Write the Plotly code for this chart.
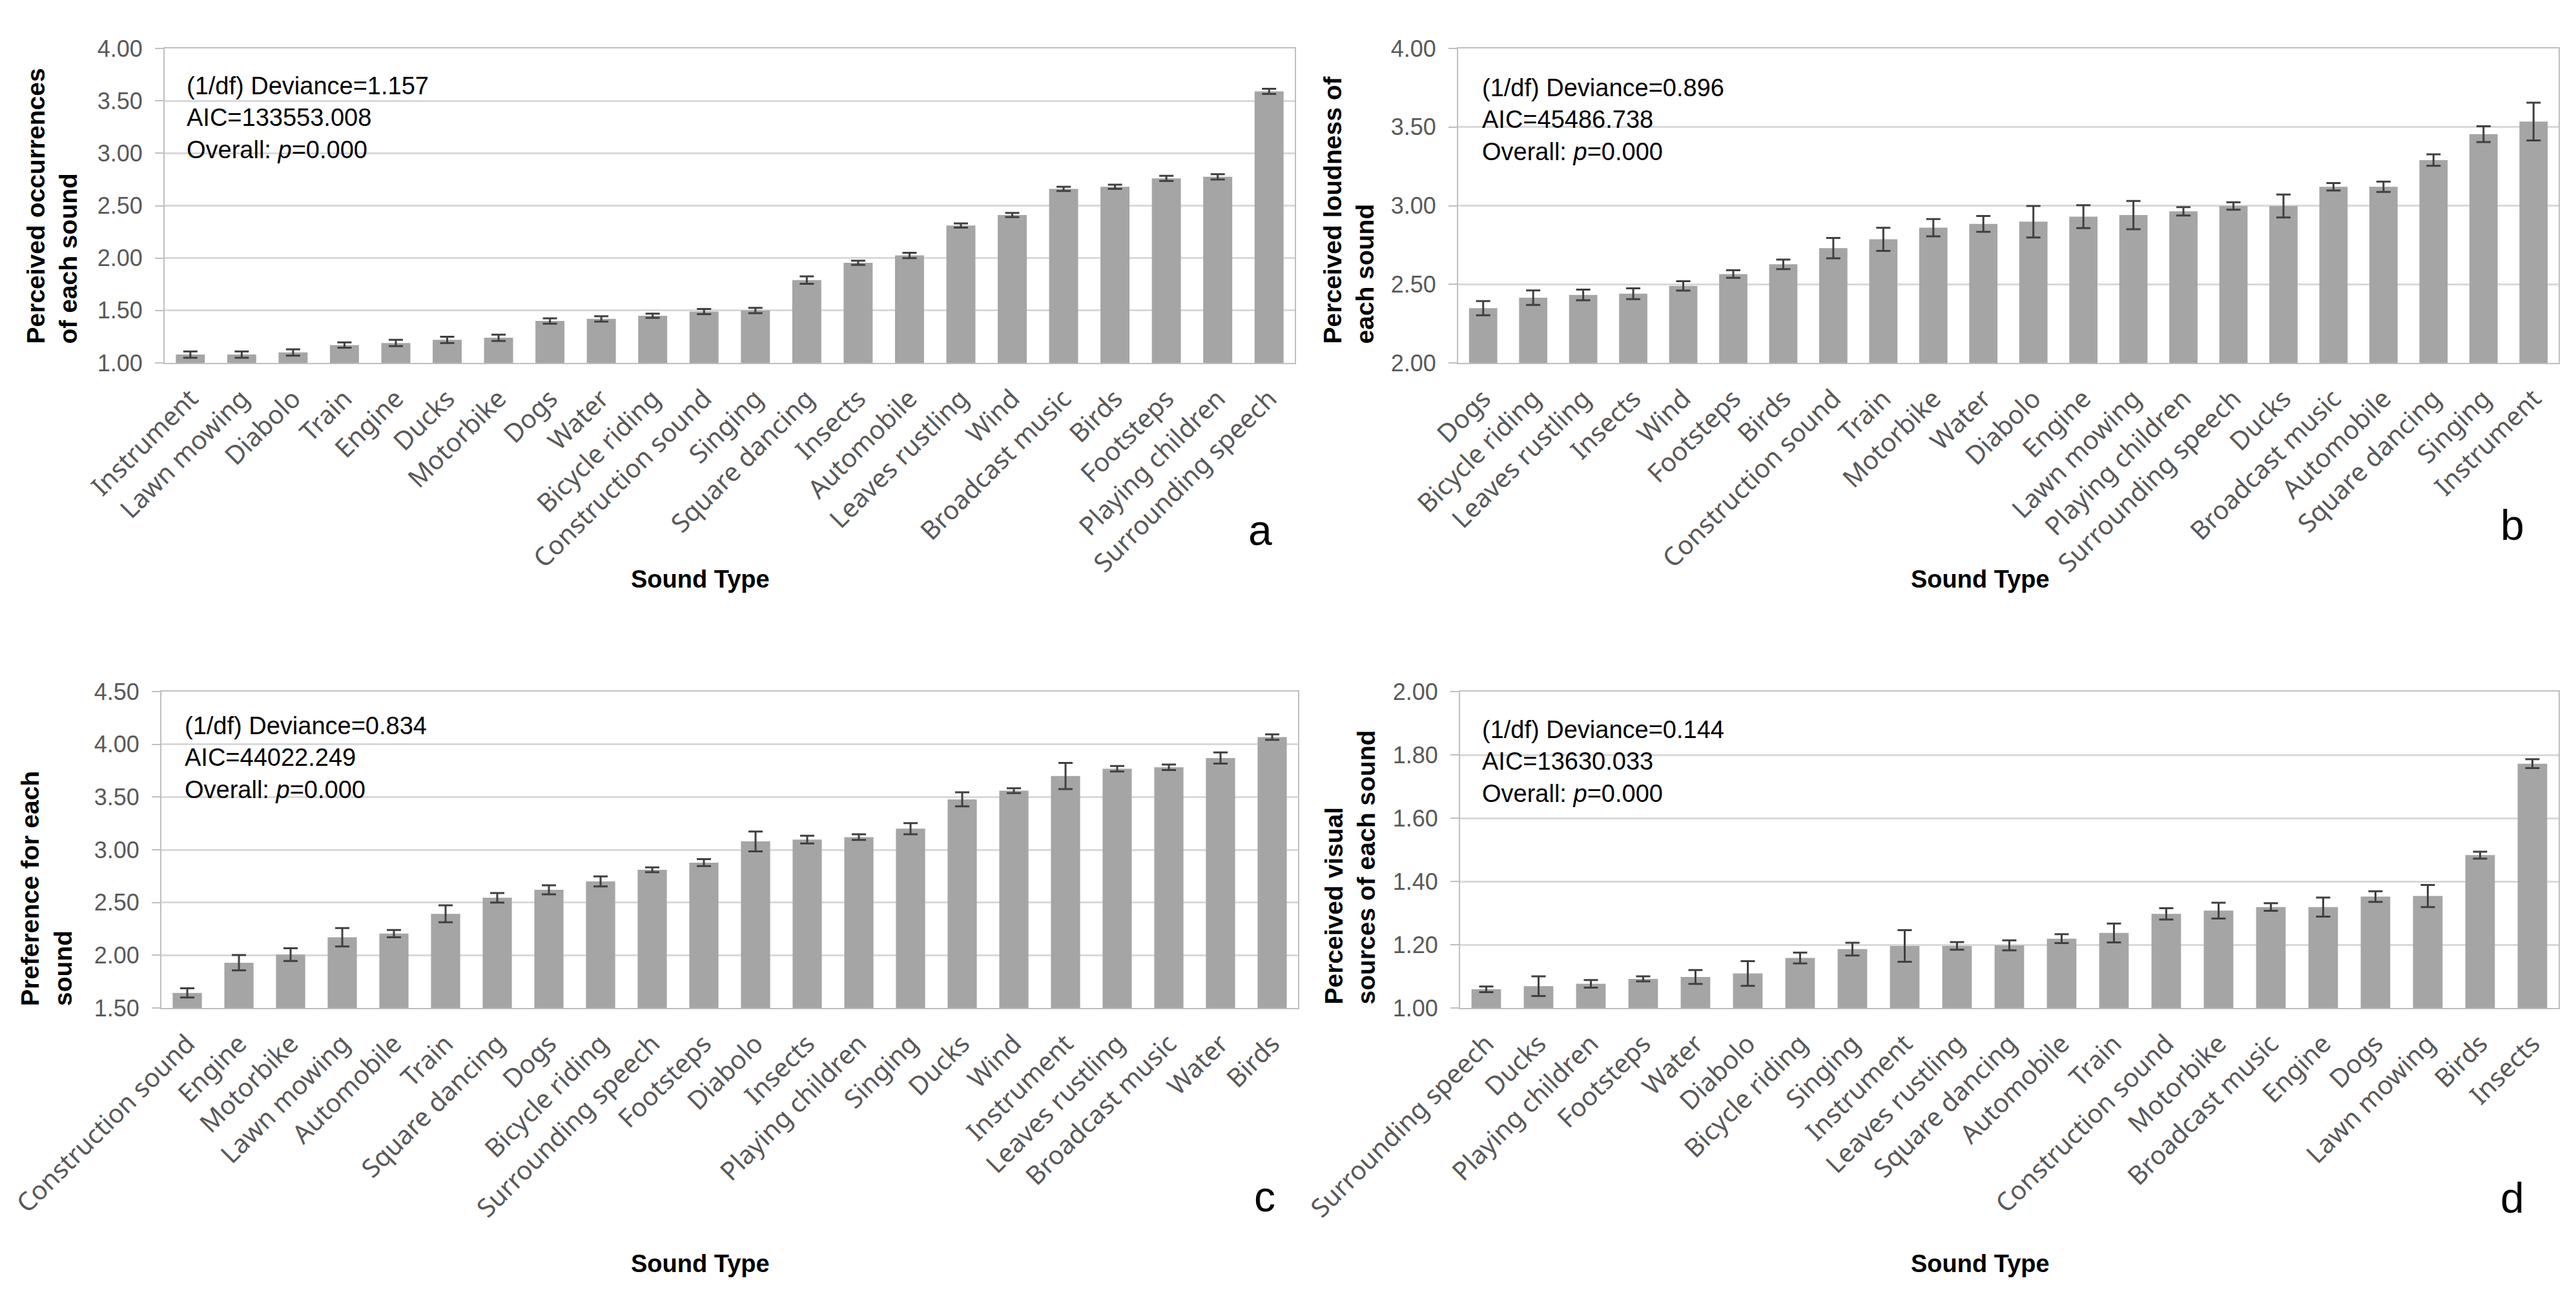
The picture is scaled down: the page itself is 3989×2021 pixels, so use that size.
import plotly.graph_objects as go

W, H = 3989, 2021

# ---------------- data ----------------
a_sounds = ["Instrument", "Lawn mowing", "Diabolo", "Train", "Engine", "Ducks", "Motorbike", "Dogs",
            "Water", "Bicycle riding", "Construction sound", "Singing", "Square dancing", "Insects",
            "Automobile", "Leaves rustling", "Wind", "Broadcast music", "Birds", "Footsteps",
            "Playing children", "Surrounding speech"]
a_means = [1.08, 1.08, 1.10, 1.17, 1.19, 1.22, 1.24, 1.40, 1.42, 1.45, 1.49, 1.50, 1.79, 1.955,
           2.025, 2.31, 2.41, 2.66, 2.68, 2.76, 2.775, 3.59]
a_errs = [0.03, 0.03, 0.03, 0.025, 0.03, 0.03, 0.03, 0.025, 0.025, 0.02, 0.025, 0.025, 0.035, 0.02,
          0.025, 0.02, 0.02, 0.02, 0.02, 0.025, 0.025, 0.025]

b_sounds = ["Dogs", "Bicycle riding", "Leaves rustling", "Insects", "Wind", "Footsteps", "Birds",
            "Construction sound", "Train", "Motorbike", "Water", "Diabolo", "Engine", "Lawn mowing",
            "Playing children", "Surrounding speech", "Ducks", "Broadcast music", "Automobile",
            "Square dancing", "Singing", "Instrument"]
b_means = [2.348, 2.415, 2.432, 2.44, 2.49, 2.565, 2.627, 2.73, 2.786, 2.86, 2.884, 2.898, 2.93,
           2.94, 2.964, 2.998, 2.998, 3.12, 3.12, 3.29, 3.455, 3.535]
b_errs = [0.045, 0.046, 0.034, 0.034, 0.03, 0.024, 0.03, 0.065, 0.073, 0.055, 0.05, 0.10, 0.073,
          0.09, 0.027, 0.024, 0.073, 0.024, 0.033, 0.036, 0.05, 0.12]

c_sounds = ["Construction sound", "Engine", "Motorbike", "Lawn mowing", "Automobile", "Train",
            "Square dancing", "Dogs", "Bicycle riding", "Surrounding speech", "Footsteps", "Diabolo",
            "Insects", "Playing children", "Singing", "Ducks", "Wind", "Instrument",
            "Leaves rustling", "Broadcast music", "Water", "Birds"]
c_means = [1.643, 1.929, 2.006, 2.17, 2.205, 2.393, 2.545, 2.62, 2.70, 2.81, 2.878, 3.079, 3.096,
           3.12, 3.20, 3.478, 3.56, 3.70, 3.768, 3.782, 3.87, 4.068]
c_errs = [0.043, 0.073, 0.06, 0.087, 0.035, 0.08, 0.045, 0.043, 0.047, 0.023, 0.033, 0.094, 0.037,
          0.027, 0.053, 0.067, 0.023, 0.124, 0.026, 0.026, 0.053, 0.026]

d_sounds = ["Surrounding speech", "Ducks", "Playing children", "Footsteps", "Water", "Diabolo",
            "Bicycle riding", "Singing", "Instrument", "Leaves rustling", "Square dancing",
            "Automobile", "Train", "Construction sound", "Motorbike", "Broadcast music", "Engine",
            "Dogs", "Lawn mowing", "Birds", "Insects"]
d_means = [1.059, 1.069, 1.0765, 1.092, 1.098, 1.109, 1.158, 1.186, 1.196, 1.196, 1.198, 1.219,
           1.237, 1.2975, 1.3076, 1.319, 1.319, 1.352, 1.354, 1.483, 1.772]
d_errs = [0.009, 0.031, 0.012, 0.008, 0.022, 0.039, 0.017, 0.02, 0.05, 0.012, 0.016, 0.014, 0.03,
          0.018, 0.025, 0.012, 0.03, 0.017, 0.035, 0.011, 0.014]

y_titles = ["Perceived occurrences<br>of each sound", "Perceived loudness of<br>each sound",
            "Preference for each<br>sound", "Perceived visual<br>sources of each sound"]
stats = ["(1/df) Deviance=1.157<br>AIC=133553.008<br>Overall: <i>p</i>=0.000",
         "(1/df) Deviance=0.896<br>AIC=45486.738<br>Overall: <i>p</i>=0.000",
         "(1/df) Deviance=0.834<br>AIC=44022.249<br>Overall: <i>p</i>=0.000",
         "(1/df) Deviance=0.144<br>AIC=13630.033<br>Overall: <i>p</i>=0.000"]
panel_letters = ["a", "b", "c", "d"]
x_title = "Sound Type"
y_ranges = [[1, 4], [2, 4], [1.5, 4.5], [1, 2]]
y_dticks = [0.5, 0.5, 0.5, 0.2]

# ---------------- layout geometry (pixels) ----------------
def fx(p):
    return p / W

def fy(p):
    return 1 - p / H

# plot boxes: (left, right, top, bottom)
boxes = [(255, 2005, 75, 562), (2258, 3962, 75, 562),
         (250, 2010, 1071, 1561), (2261, 3962, 1071, 1561)]
stat_pos = [(287, 110), (2293, 113), (284, 1101), (2293, 1107)]
ytitle_pos = [(80, 535), (2088, 535), (72, 1560), (2090, 1558)]
xtitle_pos = [(1084, 897), (3066, 897), (1084, 1957), (3066, 1957)]
letter_pos = [(1951, 821), (3890, 813), (1958, 1853), (3890, 1855)]

BAR = "#a5a5a5"
ERR = "#404040"
GRID = "#d9d9d9"
LINE = "#bfbfbf"
TICK = "#595959"

fig = go.Figure()
data = [(a_sounds, a_means, a_errs), (b_sounds, b_means, b_errs),
        (c_sounds, c_means, c_errs), (d_sounds, d_means, d_errs)]

annotations = []
for i, (cats, vals, errs) in enumerate(data):
    n = "" if i == 0 else str(i + 1)
    fig.add_trace(go.Bar(
        x=cats, y=vals, xaxis="x" + n, yaxis="y" + n,
        marker=dict(color=BAR, line=dict(width=0)),
        error_y=dict(type="data", array=errs, color=ERR, thickness=3, width=11),
        showlegend=False,
    ))
    l, r, t, b = boxes[i]
    fig.layout["xaxis" + n] = dict(
        domain=[fx(l), fx(r)], anchor="y" + n, type="category", automargin=False,
        tickangle=-45, tickfont=dict(family="Noto Sans", size=40, color=TICK),
        showline=True, linecolor=LINE, linewidth=2, mirror=True, showgrid=False,
        ticks="", ticklabelstandoff=14, fixedrange=True,
    )
    fig.layout["yaxis" + n] = dict(
        domain=[fy(b), fy(t)], anchor="x" + n, range=y_ranges[i], dtick=y_dticks[i],
        tick0=y_ranges[i][0], tickformat=".2f", automargin=False,
        showgrid=True, gridcolor=GRID, gridwidth=3, zeroline=False,
        showline=True, linecolor=LINE, linewidth=2, mirror=True,
        ticks="outside", ticklen=13, tickcolor=LINE, tickwidth=2,
        tickfont=dict(family="Liberation Sans", size=36, color=TICK),
        ticklabelstandoff=12, fixedrange=True,
    )
    sx, sy = stat_pos[i]
    annotations.append(dict(
        text=stats[i], x=fx(sx), y=fy(sy), xref="paper", yref="paper",
        xanchor="left", yanchor="top", align="left", showarrow=False,
        font=dict(family="Liberation Sans", size=38, color="#000000"),
    ))
    tx, ty = ytitle_pos[i]
    annotations.append(dict(
        text="<b>" + y_titles[i].replace("<br>", "</b><br><b>") + "</b>",
        x=fx(tx), y=fy(ty), xref="paper", yref="paper",
        xanchor="center", yanchor="bottom", align="left", textangle=-90, showarrow=False,
        font=dict(family="Liberation Sans", size=39, color="#000000"),
    ))
    xx, xy = xtitle_pos[i]
    annotations.append(dict(
        text="<b>" + x_title + "</b>", x=fx(xx), y=fy(xy), xref="paper", yref="paper",
        xanchor="center", yanchor="middle", showarrow=False,
        font=dict(family="Liberation Sans", size=38, color="#000000"),
    ))
    lx, ly = letter_pos[i]
    annotations.append(dict(
        text=panel_letters[i], x=fx(lx), y=fy(ly), xref="paper", yref="paper",
        xanchor="center", yanchor="middle", showarrow=False,
        font=dict(family="Liberation Sans", size=66, color="#000000"),
    ))

fig.update_layout(
    width=W, height=H, margin=dict(l=0, r=0, t=0, b=0, autoexpand=False),
    paper_bgcolor="white", plot_bgcolor="white",
    bargap=0.435, annotations=annotations,
)

fig.write_html("out.html", config={"displayModeBar": False},
               post_script="document.body.style.margin='0';")
